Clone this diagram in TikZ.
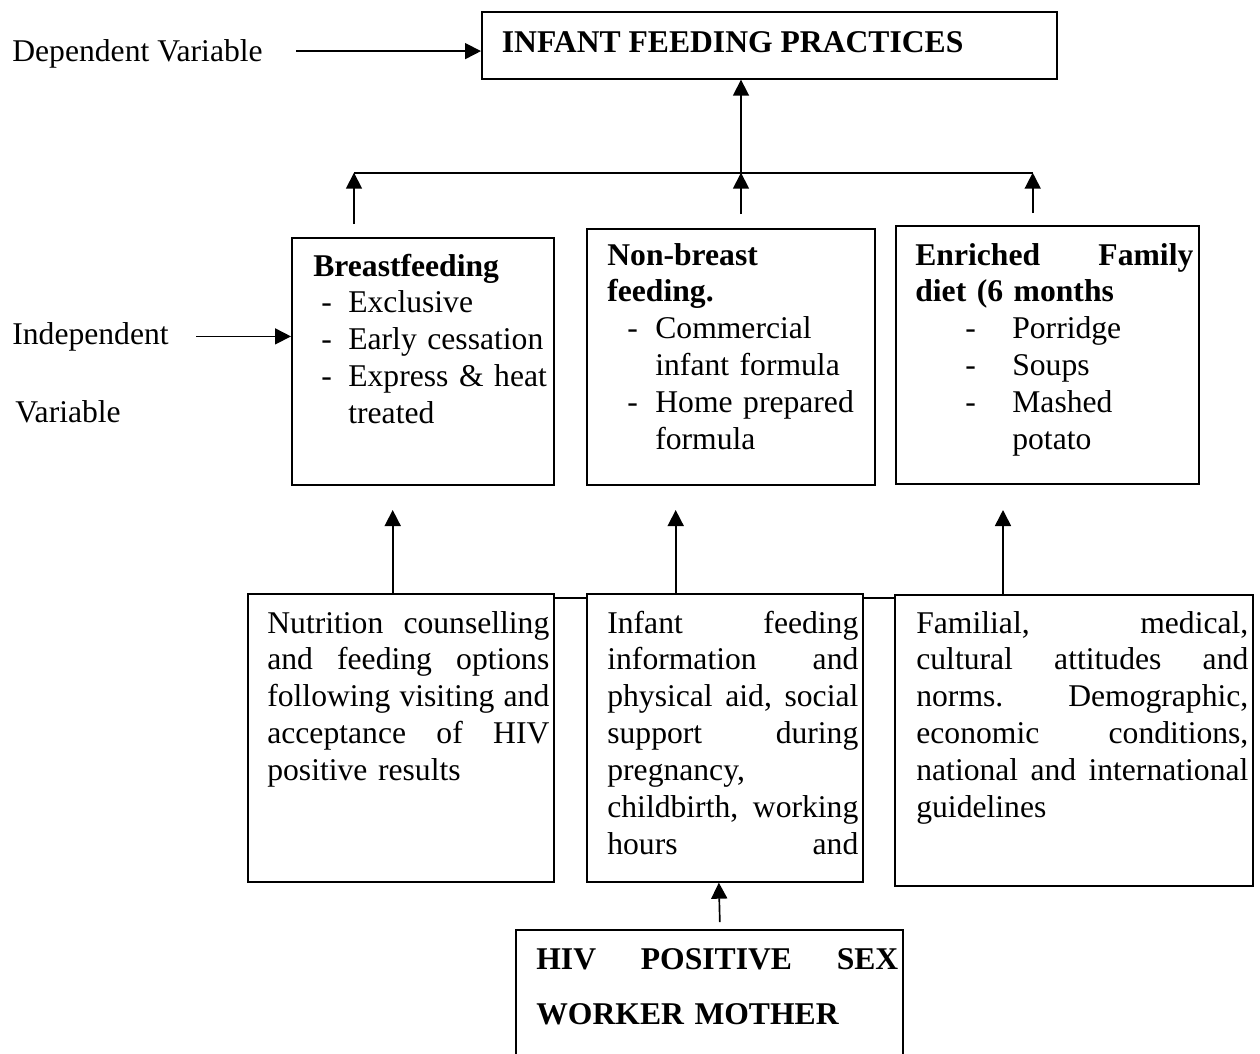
\documentclass[tikz,border=0pt]{standalone}
\usepackage{fontspec}
\setmainfont{Liberation Serif}
\usetikzlibrary{arrows.meta,calc}

\tikzset{
  box/.style={draw, line width=0.95pt, inner sep=0pt, anchor=north west},
  txt/.style={inner sep=0pt, anchor=base west, font=\fontsize{18}{21}\selectfont},
  para/.style={txt, align=left, text width=#1},
  arr/.style={-{Triangle[length=0.32cm,width=0.32cm]}, line width=0.95pt},
  conn/.style={line width=0.95pt}
}
\newcommand{\gap}{\hspace{\fill}}
\newcommand{\dashline}[3]{\hspace*{#1}\makebox[\dimexpr#2-#1\relax][l]{-}#3}
\newcommand{\contline}[2]{\hspace*{#1}#2}

\begin{document}
\begin{tikzpicture}
\useasboundingbox (0,0) rectangle (25.2,-21.06);

% Dependent variable
\node[box, minimum width=11.5cm, minimum height=1.34cm] (ttl) at (9.62,-0.22) {};
\node[txt] (ttltxt) at (10.03,-1.04) {\textbf{INFANT FEEDING PRACTICES}};
\node[txt] (dep) at (0.24,-1.234) {Dependent Variable};
\draw[arr] ([xshift=0.66cm,yshift=0.06cm]dep.east) -- ([yshift=0.06cm]dep.east -| ttl.west);

% Joining bar
\coordinate (barl) at (7.08,-3.454);
\coordinate (barm) at (14.82,-3.454);
\coordinate (barr) at (20.654,-3.454);
\draw[conn] (barl) -- (barr);
\draw[arr] (barm) -- (barm |- ttl.south);

% Feeding options
\node[box, minimum width=5.24cm, minimum height=4.94cm] (bf) at (5.82,-4.74) {};
\node[box, minimum width=5.76cm, minimum height=5.12cm] (nb) at (11.72,-4.56) {};
\node[box, minimum width=6.06cm, minimum height=5.16cm] (ef) at (17.9,-4.5) {};

\node[para=4.8cm] (bftxt) at (6.26,-5.52) {\textbf{Breastfeeding}\\
\dashline{0.16cm}{0.7cm}{Exclusive}\\
\dashline{0.16cm}{0.7cm}{Early cessation}\\
\dashline{0.16cm}{0.7cm}{Express \& heat}\\
\contline{0.7cm}{treated}};
\node[para=5.1cm] (nbtxt) at (12.14,-5.3) {\textbf{Non-breast}\\
\textbf{feeding.}\\
\dashline{0.4cm}{0.96cm}{Commercial}\\
\contline{0.96cm}{infant formula}\\
\dashline{0.4cm}{0.96cm}{Home prepared}\\
\contline{0.96cm}{formula}};
\node[para=5.56cm] (eftxt) at (18.3,-5.3) {\textbf{Enriched\gap Family}\\
\textbf{diet (6 months}\\
\dashline{1.0cm}{1.94cm}{Porridge}\\
\dashline{1.0cm}{1.94cm}{Soups}\\
\dashline{1.0cm}{1.94cm}{Mashed}\\
\contline{1.94cm}{potato}};

\draw[arr] ($(barl |- bf.north)+(0,0.26)$) -- (barl);
\draw[arr] ($(barm |- nb.north)+(0,0.28)$) -- (barm);
\draw[arr] ($(barr |- ef.north)+(0,0.24)$) -- (barr);

% Independent variable
\node[txt] (ind) at (0.24,-6.88) {Independent};
\node[txt] (indv) at (0.3,-8.44) {Variable};
\draw[arr] ([xshift=0.54cm]ind.east) -- (ind.east -| bf.west);

% Influencing factors
\node[box, minimum width=6.12cm, minimum height=5.76cm] (cns) at (4.94,-11.86) {};
\node[box, minimum width=5.52cm, minimum height=5.76cm] (inf) at (11.72,-11.86) {};
\node[box, minimum width=7.16cm, minimum height=5.82cm] (fam) at (17.88,-11.88) {};

\node[para=5.64cm] (cnstxt) at (5.34,-12.66) {Nutrition\gap counselling\\
and\gap feeding\gap options\\
following\gap visiting\gap and\\
acceptance\gap of\gap HIV\\
positive results};
\node[para=5.02cm] (inftxt) at (12.14,-12.66) {Infant\gap feeding\\
information\gap and\\
physical\gap aid,\gap social\\
support\gap during\\
pregnancy,\\
childbirth,\gap working\\
hours\gap and};
\node[para=6.64cm] (famtxt) at (18.32,-12.66) {Familial,\gap medical,\\
cultural\gap attitudes\gap and\\
norms.\gap Demographic,\\
economic\gap conditions,\\
national\gap and\gap international\\
guidelines};

\coordinate (lk) at (0,-11.96);
\draw[conn] (lk -| cns.east) -- (lk -| inf.west);
\draw[conn] (lk -| inf.east) -- (lk -| fam.west);

\coordinate (up1) at (7.854,-10.2);
\coordinate (up2) at (13.514,-10.2);
\coordinate (up3) at (20.06,-10.2);
\draw[arr] (up1 |- cns.north) -- (up1);
\draw[arr] (up2 |- inf.north) -- (up2);
\draw[arr] (up3 |- fam.north) -- (up3);

% Mother
\node[box, minimum width=7.74cm, minimum height=2.7cm] (hiv) at (10.3,-18.58) {};
\node[para=7.24cm, font=\fontsize{18}{31.75}\selectfont] (hivtxt) at (10.72,-19.38)
  {\bfseries HIV\gap POSITIVE\gap SEX\\ WORKER MOTHER};
\draw[arr] ($(hiv.north)+(0.21,0.14)$) -- ($(inf.south)+(-0.12,0)$);
\end{tikzpicture}
\end{document}
